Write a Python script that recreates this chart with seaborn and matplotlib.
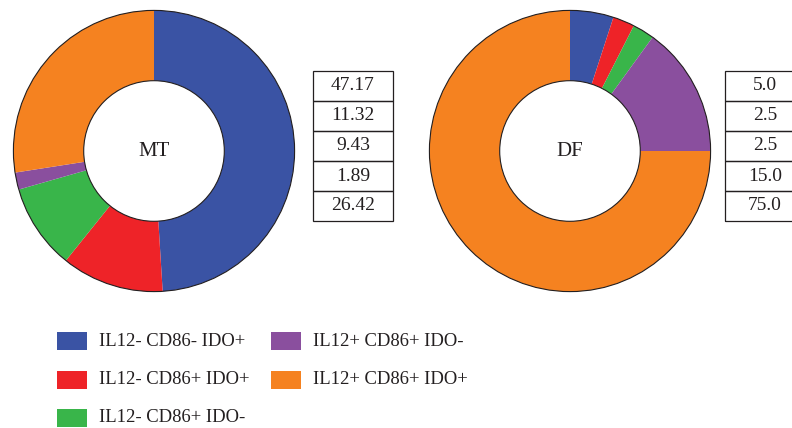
import matplotlib
matplotlib.use("Agg")
import matplotlib.pyplot as plt
from matplotlib.patches import Rectangle, Circle
import seaborn as sns

# Phenotype categories and their share in each group
categories = ["IL12- CD86- IDO+", "IL12- CD86+ IDO+", "IL12- CD86+ IDO-",
              "IL12+ CD86+ IDO-", "IL12+ CD86+ IDO+"]
mt_values = [47.17, 11.32, 9.43, 1.89, 26.42]
df_values = [5.0, 2.5, 2.5, 15.0, 75.0]
mt_labels = ["47.17", "11.32", "9.43", "1.89", "26.42"]
df_labels = ["5.0", "2.5", "2.5", "15.0", "75.0"]
group_names = ["MT", "DF"]

sns.set_theme(style="white")
plt.rcParams["font.family"] = ["Liberation Serif", "DejaVu Serif"]
colors = sns.color_palette(["#3A53A4", "#EE2328", "#39B54A", "#8A4F9E", "#F58220"])
text_color = "#231F20"

W, H = 792, 428
fig = plt.figure(figsize=(W / 100, H / 100), dpi=100)
fig.patch.set_facecolor("white")


def fx(px):
    return px / W


def fy(py):
    return 1 - py / H


def donut(cx, cy, r, values, name):
    ax = fig.add_axes([fx(cx - r), fy(cy + r), 2 * r / W, 2 * r / H])
    ax.pie(values, colors=colors, startangle=90, counterclock=False,
           radius=1.0, wedgeprops=dict(width=0.5, linewidth=0))
    ax.add_patch(Circle((0, 0), 1.0, fill=False, edgecolor=text_color, lw=0.8))
    ax.add_patch(Circle((0, 0), 0.5, fill=False, edgecolor=text_color, lw=0.8))
    ax.text(0, 0, name, ha="center", va="center", fontsize=15, color=text_color)
    ax.set_xlim(-1.01, 1.01)
    ax.set_ylim(-1.01, 1.01)
    ax.set_aspect("equal")
    ax.axis("off")


def value_table(x0, y0, w, row_h, labels):
    for i, lab in enumerate(labels):
        top = y0 + i * row_h
        fig.patches.append(Rectangle((fx(x0), fy(top + row_h)), w / W, row_h / H,
                                     transform=fig.transFigure, fill=False,
                                     edgecolor=text_color, lw=0.9))
        fig.text(fx(x0 + w / 2), fy(top + row_h / 2), lab, ha="center", va="center",
                 fontsize=14, color=text_color)


donut(154, 151, 142, mt_values, group_names[0])
donut(570, 151, 142, df_values, group_names[1])
value_table(313, 71, 80, 30, mt_labels)
value_table(725, 71, 80, 30, df_labels)

# Legend: first column holds three entries, second column two
positions = [(57, 341), (57, 380), (57, 418), (271, 341), (271, 380)]
for (lx, ly), cat, col in zip(positions, categories, colors):
    fig.patches.append(Rectangle((fx(lx), fy(ly + 9)), 30 / W, 18 / H,
                                 transform=fig.transFigure, facecolor=col,
                                 edgecolor="none"))
    fig.text(fx(lx + 42), fy(ly), cat, ha="left", va="center", fontsize=13.4,
             color=text_color)

fig.savefig("out.png", dpi=100)
